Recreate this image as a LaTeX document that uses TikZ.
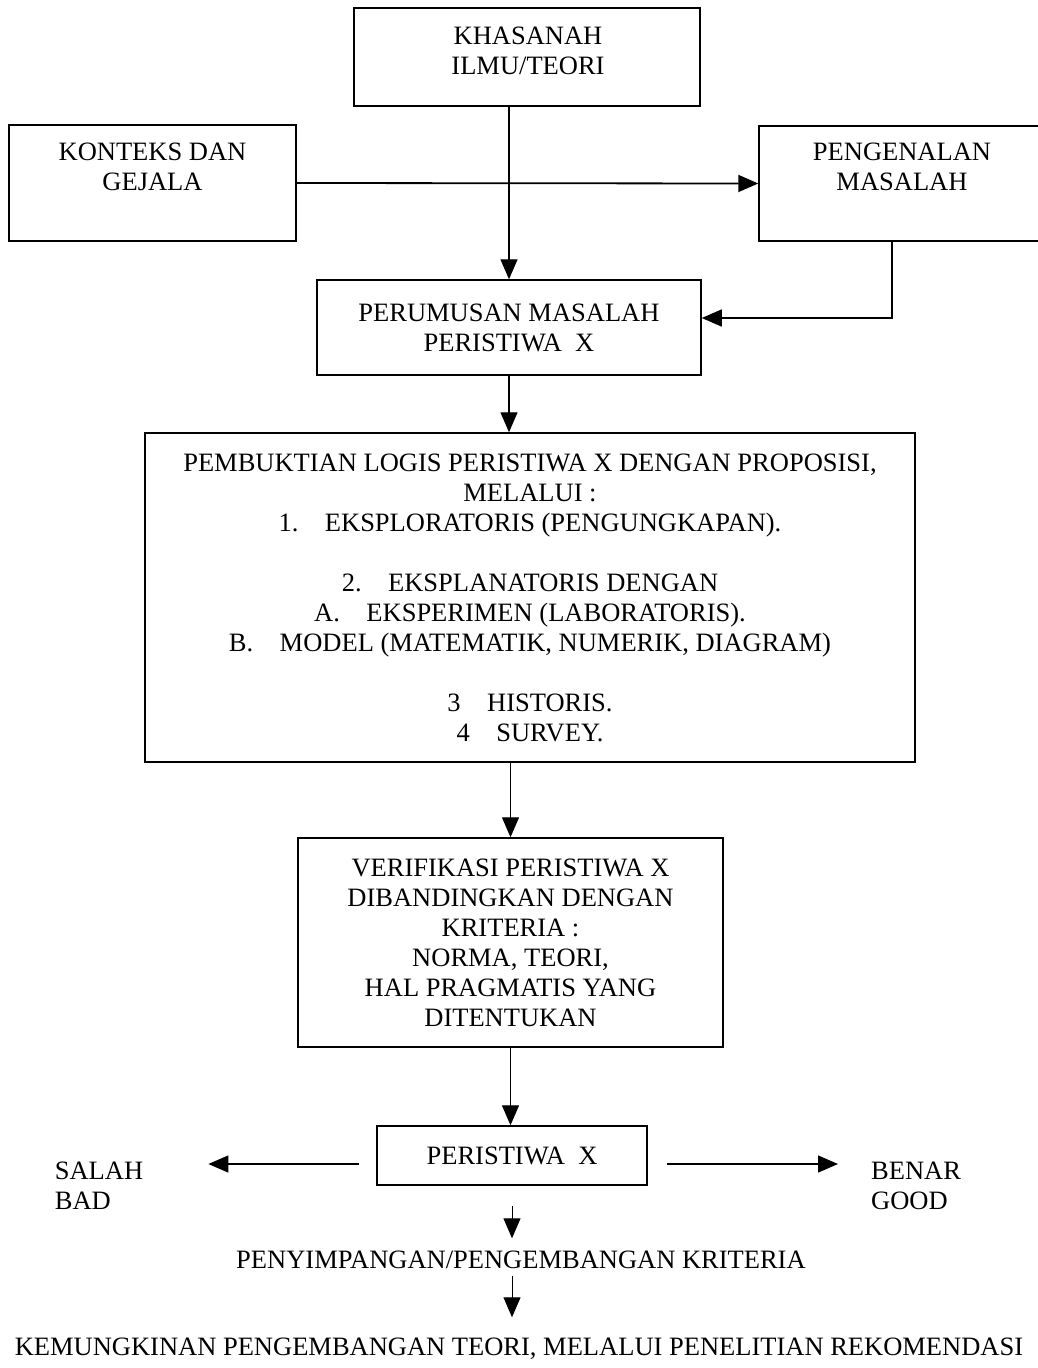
\documentclass[tikz,border=0pt]{standalone}
\usepackage{fontspec}
\setmainfont{Liberation Serif}
\usetikzlibrary{arrows.meta}
\begin{document}
\begin{tikzpicture}[x=1pt,y=-1pt,
  box/.style={draw,line width=1.5pt,inner sep=0pt},
  txt/.style={align=center,inner sep=0pt,font=\fontsize{26.5}{30}\selectfont},
  arr/.style={line width=1.4pt,-{Triangle[length=20pt,width=17pt]}}]
\useasboundingbox[fill=white] (0,0) rectangle (1038,1368);

% top boxes
\node[box,minimum width=346,minimum height=98] (kh) at (527,57) {};
\node[txt] (kht) at (528,51) {KHASANAH\\ILMU/TEORI};

\node[box,minimum width=287,minimum height=116] (ko) at (152.5,183) {};
\node[txt] (kot) at (152.5,167) {KONTEKS DAN\\GEJALA};

\node[box,minimum width=282,minimum height=115] (pg) at (900,183.5) {};
\node[txt] (pgt) at (902,167) {PENGENALAN\\MASALAH};

\node[box,minimum width=384,minimum height=95,txt] (pe) at (509,327.5) {PERUMUSAN MASALAH\\PERISTIWA\enspace X};

\node[box,minimum width=770,minimum height=329,txt] (pb) at (530,597.5) {PEMBUKTIAN LOGIS PERISTIWA X DENGAN PROPOSISI,\\
MELALUI :\\
1.\quad EKSPLORATORIS (PENGUNGKAPAN).\\[30pt]
2.\quad EKSPLANATORIS DENGAN\\
A.\quad EKSPERIMEN (LABORATORIS).\\
B.\quad MODEL (MATEMATIK, NUMERIK, DIAGRAM)\\[30pt]
3\quad HISTORIS.\\
4\quad SURVEY.};

\node[box,minimum width=425,minimum height=209,txt] (vf) at (510.5,942.5) {VERIFIKASI PERISTIWA X\\DIBANDINGKAN DENGAN\\KRITERIA :\\NORMA, TEORI,\\HAL PRAGMATIS YANG\\DITENTUKAN};

\node[box,minimum width=270,minimum height=59,txt] (px) at (512,1155.5) {PERISTIWA\enspace X};

\node[txt,align=left] (sal) at (99,1186) {SALAH\\BAD};
\node[txt,align=left,anchor=west] (ben) at (871,1186) {BENAR\\GOOD};

\node[txt,text height=17pt,text depth=0pt] (py) at (521,1260) {PENYIMPANGAN/PENGEMBANGAN KRITERIA};
\node[txt,text height=17pt,text depth=0pt] (km) at (519,1347) {KEMUNGKINAN PENGEMBANGAN TEORI, MELALUI PENELITIAN REKOMENDASI};

% connectors
\draw[arr] (kh.south -| pe.north) -- (pe.north);
\draw[arr,line width=1.8pt] (ko.east) -- (pg.west);
\draw[arr] ([xshift=-8pt]pg.south) |- ([yshift=9.5pt]pe.east);
\draw[arr] (pe.south) -- (pe.south |- pb.north);
\draw[arr] (pb.south -| vf.north) -- (vf.north);
\draw[arr] (vf.south) -- (vf.south |- px.north);
\draw[arr] ([xshift=-17pt,yshift=-8.5pt]px.west) -- ([xshift=65pt,yshift=22pt]sal.east);
\draw[arr] ([xshift=19pt,yshift=-8.5pt]px.east) -- ([xshift=-33pt,yshift=22pt]ben.west);
\draw[arr,line width=1pt] ([yshift=-20pt]px.south) -- ([yshift=13pt]py.north -| px.south);
\draw[arr,line width=1pt] ([yshift=-7pt]py.south -| px.south) -- ([yshift=21pt]km.north -| px.south);
\end{tikzpicture}
\end{document}
